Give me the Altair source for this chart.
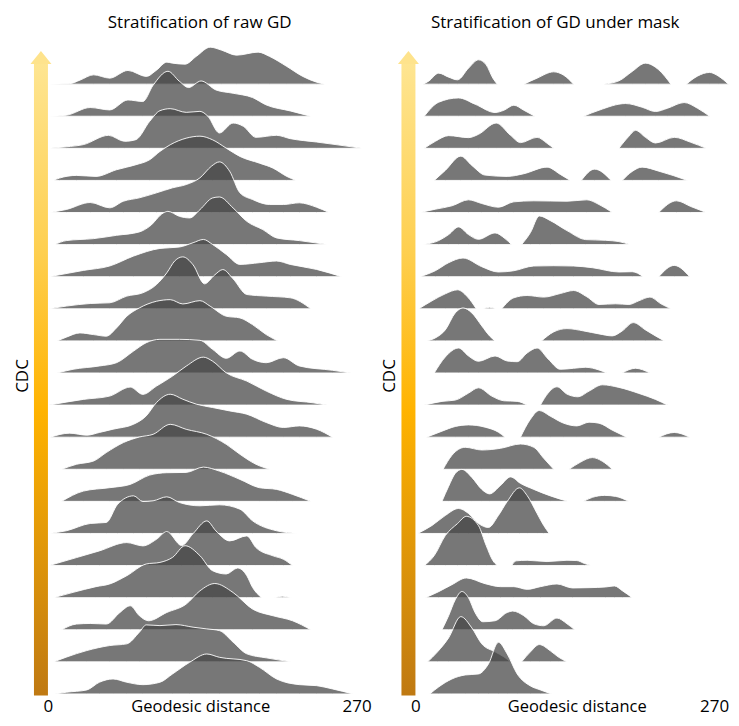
import altair as alt
import pandas as pd

# ---- data: density profiles (geodesic distance, density) per CDC stratum ----
N_ROWS = 20
ROW_GAP = 32.14  # vertical offset between strata, in density units

LEFT_RIDGES = [
    [[(1,0),(19,0.5),(28,4),(40,9.3),(54,6),(70,13.7),(86,7.7),(95,14),(104,22),(109,21),(120,20),(130,28),(142,37),(152,34),(165,29),(184,32),(194,27.7),(209,17.7),(223,7.7),(235,2),(242,0)]],
    [[(1,0),(16,1),(37,8.7),(54,6.3),(70,16.3),(83,14.7),(92,31),(105,45),(115,35),(123,28.7),(134,35.3),(147,26.3),(162,23),(179,18.7),(191,11.3),(212,5.3),(230,0)]],
    [[(1,0),(16,1.5),(31,3.7),(53,13),(67,7),(77,8.7),(89,27),(98,37.7),(107,39.7),(121,36),(133,37),(140,32),(150,15.3),(162,25.3),(171,22),(182,11),(200,13),(212,9.7),(235,6.3),(252,3.7),(275,0)]],
    [[(5,0),(10,2.3),(25,5),(42,4),(60,10.7),(77,15.7),(89,20.7),(98,29),(107,35.7),(121,42.3),(133,44.3),(144,40.7),(156,32.3),(168,24),(185,17.3),(197,12.3),(209,4),(217,0)]],
    [[(1,0),(16,3),(37,10),(54,4.7),(66,11.3),(80,14.7),(95,19.7),(109,24.7),(121,28),(133,34.7),(143,46.3),(150,50.7),(159,41.3),(168,19.7),(179,13),(194,8),(206,8),(220,9.7),(235,5.3),(246,0)]],
    [[(6,0),(16,4),(40,6),(60,9.3),(80,12.7),(89,18.3),(101,31.7),(105,33.3),(115,28.3),(124,26.7),(133,35),(144,46.7),(150,47.7),(162,36.7),(174,23.3),(188,15),(200,6.7),(220,4),(245,0)]],
    [[(1,0),(31,6.3),(54,10.7),(75,20.7),(98,28.3),(115,29.7),(127,34),(136,37.3),(144,32.3),(156,22.3),(168,12.3),(185,14),(200,15.7),(212,12.3),(235,7.3),(257,0)]],
    [[(1,0),(16,2.7),(37,5.3),(54,6),(69,12.7),(83,16),(95,24.3),(104,36),(111,48),(118,52),(127,44),(137,25),(146,34),(153,39.3),(162,30),(174,14.3),(191,12.7),(212,11),(230,0)]],
    [[(8,0),(16,3.7),(28,8),(40,6.3),(51,4.7),(60,13),(69,24.7),(80,33),(95,39.7),(107,41.3),(118,37),(133,40.3),(142,34.7),(156,24.7),(168,23),(179,16.3),(191,6.3),(201,0)]],
    [[(8,0),(22,3.7),(45,7),(60,10.3),(75,22),(86,30.3),(98,33.7),(115,33.7),(133,32.7),(144,23.7),(156,14.7),(168,22),(179,13.7),(191,10.3),(206,15.3),(220,7),(249,2.7),(265,0)]],
    [[(1,0),(31,5.7),(54,9),(72,18),(83,10.7),(95,19),(109,29),(121,39),(136,48),(144,44),(156,32.3),(174,24),(191,14),(209,5.7),(232,2.3),(244,0)]],
    [[(2,0),(19,4),(34,2),(45,4.7),(57,8),(75,13),(86,21.3),(95,34.7),(107,43),(118,38),(130,33),(144,29.7),(159,26.3),(174,23),(191,14.7),(206,9.7),(220,11.3),(235,8),(249,0)]],
    [[(12,0),(25,5),(40,8.3),(51,16.7),(66,26.7),(80,32.3),(92,35),(107,45),(121,40),(139,35),(156,25),(168,15),(182,5),(194,0)]],
    [[(12,0),(31,10.3),(54,13.7),(72,17),(89,26.3),(104,28.7),(121,29),(136,34.3),(150,30.3),(168,22),(185,13.7),(200,12),(214,7),(230,0)]],
    [[(1,0),(16,2.7),(37,10),(51,11),(61,29.3),(75,37.7),(83,32),(92,32.7),(104,36.7),(115,31),(133,27.7),(150,28.7),(168,24.3),(179,12.7),(200,2.7),(219,0)]],
    [[(1,0),(25,8),(45,14.7),(69,23),(83,19.7),(95,26.3),(104,34),(117,20),(127,32),(139,44.7),(147,34.7),(159,24.7),(174,29.7),(182,18),(197,9.7),(206,6.3),(214,0)]],
    [[(5,0),(22,5.3),(42,11),(54,13.7),(69,22),(86,33.7),(98,35.3),(109,40.3),(120,52),(133,42),(144,27),(156,23.7),(166,29.7),(174,22),(179,10.3),(187,0)],
     [(198,0),(205,1.5),(213,0)]],
    [[(12,0),(25,5.7),(37,6.3),(51,5.7),(63,17.3),(72,24),(80,14),(88,9),(104,17.3),(121,25.7),(133,39),(146,46.3),(162,37.3),(179,20.7),(197,14),(214,9),(230,0)]],
    [[(5,0),(16,4.7),(34,11.3),(54,16.3),(69,18),(80,29.7),(86,37),(98,36.3),(112,37.3),(127,34.7),(139,33),(150,31.3),(162,19.7),(174,8),(191,4),(213,0)]],
    [[(6,0),(16,1.7),(34,4),(45,11.7),(57,15),(69,11.7),(83,9.3),(98,11.7),(109,20),(124,31.7),(139,40),(150,36.7),(174,33.3),(185,26.7),(200,15),(220,9.3),(235,8.3),(249,5),(267,0)]],
]

RIGHT_RIDGES = [
    [[(7,0),(12,3),(21,11),(30,7),(38,4.3),(48,16),(57,24.3),(64,19.3),(70,6),(74,0)],
     [(98,0),(110,6),(125,12.3),(134,9),(143,0)],
     [(170,0),(184,3.3),(196,12.7),(208,21),(220,14.3),(231,0)],
     [(245,0),(255,8),(266,11.7),(274,8),(283,0)]],
    [[(8,0),(21,14),(39,18.3),(54,12),(72,3.7),(80,6),(89,11),(98,6),(108,0)],
     [(152,0),(166,6),(190,12.7),(205,9),(217,4.7),(228,8),(243,13.7),(255,8),(266,0)]],
    [[(8,0),(18,7),(30,12.7),(48,10.7),(57,14),(73,25.3),(86,13),(95,5.7),(110,11),(119,5),(125,0)],
     [(184,0),(193,12),(199,18),(208,11),(217,5.3),(234,11),(249,6),(263,0)]],
    [[(17,0),(27,10),(41,24.3),(51,15),(63,5.3),(83,4),(98,6.7),(119,13.3),(131,6),(140,0)],
     [(150,0),(162,11.3),(177,0)],
     [(187,0),(196,9),(205,13.3),(220,9.3),(246,0)]],
    [[(4,0),(18,3.3),(33,6.7),(48,12.7),(60,9),(75,5.3),(89,10.7),(107,11.7),(137,11.3),(155,12.7),(166,8),(178,0)],
     [(220,0),(236,11.7),(249,6),(263,0)]],
    [[(6,0),(21,4),(30,10),(39,17.7),(48,10),(57,5.3),(72,11.7),(81,6),(87,0)],
     [(96,0),(104,12),(112,28.7),(122,24),(137,14),(154,5),(172,4.3),(184,3),(194,0)]],
    [[(4,0),(18,6),(30,14),(43,18.7),(60,10),(75,4.7),(89,6),(107,10.7),(125,11),(143,10.7),(160,9),(184,4.7),(196,5),(206,0)],
     [(220,0),(234,11.3),(248,0)]],
    [[(3,0),(15,8),(27,15),(38,19),(47,12),(55,0)],
     [(61,0),(67,1.5),(73,0)],
     [(78,0),(89,11),(101,13.3),(116,11.7),(131,15.3),(143,18.3),(155,12),(166,4.3),(181,5),(193,4.3),(202,8),(212,11.7),(222,5),(231,0)]],
    [[(10,0),(18,3),(27,11),(36,28),(43,33),(51,28),(60,15),(67,5),(72,0)],
     [(114,0),(125,9),(137,12.3),(152,10),(166,7),(178,5),(187,10),(197,18.3),(208,11),(217,5),(225,0)]],
    [[(17,0),(27,16),(39,25),(48,17),(57,11.7),(72,17),(83,12),(92,11.3),(101,20),(110,25),(120,14),(131,3.7),(143,4.7),(154,5.7),(166,3),(173,0)],
     [(187,0),(199,4.7),(212,0)]],
    [[(8,0),(24,3.7),(36,5),(48,12),(57,17.3),(69,9),(80,4.3),(92,3.7),(101,0)],
     [(113,0),(120,12),(128,18.3),(137,11),(147,8.3),(157,14),(169,20.3),(184,17.7),(202,11.7),(217,5.7),(228,0)]],
    [[(10,0),(24,6),(36,10.7),(48,12.3),(63,10),(75,5),(81,0)],
     [(95,0),(104,18),(112,26.7),(122,21),(134,14),(146,11.3),(157,15),(166,14),(178,7),(191,0)],
     [(220,0),(234,4.7),(248,0)]],
    [[(25,0),(33,14),(45,22),(60,19.3),(77,21),(95,25.3),(107,22),(116,11),(125,0)],
     [(139,0),(149,7),(160,11.7),(169,8),(178,0)]],
    [[(24,0),(30,15),(36,28),(42,32),(51,24),(60,12),(67,7.5),(77,16),(86,24.5),(95,18),(107,12),(122,5.5),(138,0)],
     [(152,0),(160,4),(171,6),(181,5),(193,0)]],
    [[(2,0),(15,8),(27,18),(39,25),(48,20),(57,10),(66,6),(75,18),(83,32),(94,45.7),(101,38),(110,20),(116,8),(121,0)]],
    [[(8,0),(17,10),(27,30),(38,42),(46,49.3),(57,40),(64,20),(70,5),(74,0)],
     [(87,0),(91,4.7),(101,5.3),(119,4),(137,5.3),(146,5),(153,2),(159,0)]],
    [[(9,0),(21,6),(33,13),(46,19.7),(63,14),(77,11),(89,11),(101,8.3),(113,11),(128,13.7),(142,9.7),(157,10),(172,10.7),(180,11.7),(187,7),(196,0)]],
    [[(24,0),(30,14),(36,30),(42,38.3),(48,32),(54,17),(61,8),(72,9),(83,17.3),(88,18.7),(98,14),(107,6),(116,4),(128,11.7),(137,6),(144,0)]],
    [[(11,0),(20,10),(30,24),(41,45.3),(51,34),(60,18),(72,10),(80,5),(86,0)],
     [(96,0),(104,10),(112,17.3),(122,11),(129,5),(137,0)]],
    [[(13,0),(21,7),(33,15),(45,19),(57,20),(66,30),(75,51.7),(83,40),(92,20),(104,8),(113,4),(123,0)]],
]

X_TICKS = [0, 270]
TITLES = ["Stratification of raw GD", "Stratification of GD under mask"]
X_TITLE = "Geodesic distance"
Y_TITLE = "CDC"

FONT = "Open Sans"
PLOT_H = 654


def to_frame(rows):
    recs = []
    for r, segs in enumerate(rows):
        base = (N_ROWS - 1 - r) * ROW_GAP
        for s, seg in enumerate(segs):
            for gd, d in seg:
                recs.append({"key": f"{r:02d}-{s}", "gd": gd, "dens": d,
                             "base": base, "top": base + d})
    return pd.DataFrame(recs)


gradient = alt.LinearGradient(
    gradient="linear",
    stops=[alt.GradientStop(offset=0, color="#fee591"),
           alt.GradientStop(offset=0.3, color="#fecf4f"),
           alt.GradientStop(offset=0.55, color="#ffb300"),
           alt.GradientStop(offset=1, color="#bf7912")],
    x1=0, x2=0, y1=0, y2=1,
)


def panel(rows, width, title, title_x, xtitle_x):
    df = to_frame(rows)
    x = alt.X("gd:Q", scale=alt.Scale(domain=[0, 270], nice=False, zero=False),
              axis=alt.Axis(values=X_TICKS, title=None, ticks=False, tickSize=0,
                            domain=False, grid=False, labelFlush=False,
                            labelPadding=3.6, labelFontSize=17, labelColor="black",
                            labelFont=FONT))
    y = alt.Y("top:Q", scale=alt.Scale(domain=[-0.6, PLOT_H - 0.6], nice=False, zero=False),
              axis=None)
    ridges = alt.Chart(df).mark_area(
        interpolate="monotone", fill="#464646", fillOpacity=0.735,
        stroke="white", strokeWidth=1, strokeOpacity=0.9,
    ).encode(x=x, y=y, y2="base:Q", detail="key:N")

    one = pd.DataFrame({"k": [0]})
    bar = alt.Chart(one).mark_rect(fill=gradient).encode(
        x=alt.value(-14), x2=alt.value(0), y=alt.value(22), y2=alt.value(PLOT_H + 1))
    head = alt.Chart(one).mark_point(
        shape="M -1 0 L 0 -1.24 L 1 0 Z", filled=True, fill="#fee38c",
        opacity=1, size=441, strokeWidth=0,
    ).encode(x=alt.value(-7), y=alt.value(22.5))

    ttl = alt.Chart(one).mark_text(
        text=title, font=FONT, fontSize=17, color="black",
        align="center", baseline="alphabetic",
    ).encode(x=alt.value(title_x), y=alt.value(-13.5))
    xttl = alt.Chart(one).mark_text(
        text=X_TITLE, font=FONT, fontSize=16.5, color="black",
        align="center", baseline="alphabetic",
    ).encode(x=alt.value(xtitle_x), y=alt.value(671))
    yttl = alt.Chart(one).mark_text(
        text=Y_TITLE, font=FONT, fontSize=17, color="black",
        align="center", baseline="alphabetic", angle=270,
    ).encode(x=alt.value(-20), y=alt.value(335))

    return alt.layer(bar, head, ridges, ttl, xttl, yttl).properties(
        width=width, height=PLOT_H,
    )


chart = alt.hconcat(
    panel(LEFT_RIDGES, 309, TITLES[0], 152, 153),
    panel(RIGHT_RIDGES, 299, TITLES[1], 140, 162),
    spacing=59, bounds="flush",
).configure_view(stroke=None).properties(
    padding={"left": 6, "top": 5, "right": 0, "bottom": 2}
)

chart.save("out.html", embed_options={"renderer": "svg", "actions": False})
